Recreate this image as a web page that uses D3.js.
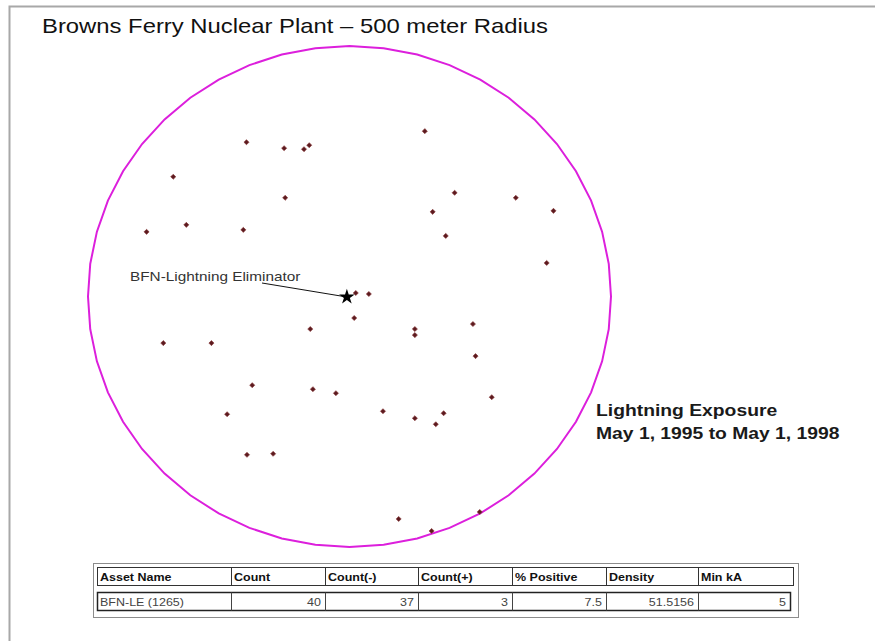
<!DOCTYPE html>
<html lang="en">
<head>
    <meta charset="UTF-8">
    <title>Browns Ferry Nuclear Plant</title>
    <style type="text/css">
        html, body { padding:0; margin:0; background:#fff; }
        text { font-family: Arial, "Liberation Sans", sans-serif; }
    </style>
</head>
<body>
<script src="https://d3js.org/d3.v7.min.js"></script>
<script type="text/javascript">
    var width = 875,
        height = 641,
        stretch = 1.135;   // the source map is a little wider than tall

    // strike locations, metres east / north of the asset
    var strikeEast = [-197, -125, -87, -77, -337, -123, -388, -312, -203, 144,
                      201, 159, 318, 390, 184, 377, 12, 37, 9, -75,
                      -356, -264, -186, -70, -26, -234, 64, -196, -146, 125,
                      125, 236, 241, 272, 125, 180, 165, 94, 249, 157];
    var strikeNorth = [308, 296, 294, 302, 239, 197, 129, 143, 133, 330,
                       207, 169, 197, 171, 121, 67, 7, 5, -43, -65,
                       -93, -93, -177, -185, -193, -235, -229, -316, -314, -65,
                       -77, -55, -119, -201, -243, -233, -255, -444, -430, -468];
    var assetPos = [-5, -1];
    var radius = 500;

    var title = 'Browns Ferry Nuclear Plant \u2013 500 meter Radius';
    var assetLabel = 'BFN-Lightning Eliminator';
    var periodLines = ['Lightning Exposure', 'May 1, 1995 to May 1, 1998'];

    var tableHeaders = ['Asset Name', 'Count', 'Count(-)', 'Count(+)', '% Positive', 'Density', 'Min kA'];
    var tableRow = ['BFN-LE (1265)', '40', '37', '3', '7.5', '51.5156', '5'];

    var svg = d3.select('body').append('svg')
        .attr('width', width)
        .attr('height', height);

    // page frame
    svg.append('path')
        .attr('d', 'M9.5,641 V6.5 H875')
        .attr('fill', 'none')
        .attr('stroke', '#a8a8a8')
        .attr('stroke-width', 2);

    svg.append('text')
        .attr('x', 42)
        .attr('y', 33)
        .attr('font-size', 21)
        .attr('fill', '#111')
        .text(title);

    var xScale = d3.scaleLinear().domain([-radius, radius]).range([88, 611]);
    var yScale = d3.scaleLinear().domain([-radius, radius]).range([547, 46]);

    // 500 m boundary ring
    var ring = d3.range(49).map(function(i) {
        var a = i * Math.PI / 24;
        return [xScale(radius * Math.cos(a)), yScale(radius * Math.sin(a))];
    });
    svg.append('path')
        .attr('d', d3.line()(ring))
        .attr('fill', 'none')
        .attr('stroke', '#dc1fdc')
        .attr('stroke-width', 2);

    var strikes = strikeEast.map(function(e, i) { return {x: e, y: strikeNorth[i]}; });

    svg.append('g')
        .selectAll('path')
        .data(strikes)
        .enter()
        .append('path')
        .attr('transform', function(d) {
            return 'translate(' + xScale(d.x) + ',' + yScale(d.y) + ') rotate(45)';
        })
        .attr('d', d3.symbol().type(d3.symbolSquare).size(13))
        .attr('fill', '#5c1a1f')
        .attr('stroke', '#8a3a3a')
        .attr('stroke-width', 0.6);

    // asset and its label
    var ax = xScale(assetPos[0]), ay = yScale(assetPos[1]);
    svg.append('line')
        .attr('x1', 262).attr('y1', 283)
        .attr('x2', ax).attr('y2', ay)
        .attr('stroke', '#111')
        .attr('stroke-width', 1);
    svg.append('path')
        .attr('transform', 'translate(' + ax + ',' + ay + ')')
        .attr('d', d3.symbol().type(d3.symbolStar).size(75))
        .attr('fill', '#000');
    svg.append('text')
        .attr('x', 130)
        .attr('y', 281)
        .attr('font-size', 13.5)
        .attr('fill', '#333')
        .text(assetLabel);

    svg.append('g')
        .selectAll('text')
        .data(periodLines)
        .enter()
        .append('text')
        .attr('x', 596)
        .attr('y', function(d, i) { return 416 + i * 23; })
        .attr('font-size', 17)
        .attr('font-weight', 'bold')
        .attr('fill', '#1a1a1a')
        .text(function(d) { return d; });

    // summary table
    var colEdges = [97, 231, 325, 418, 512, 606, 698, 793];
    var tbl = svg.append('g');

    tbl.append('rect')
        .attr('x', 93.5).attr('y', 563.5)
        .attr('width', 705).attr('height', 54)
        .attr('fill', 'none')
        .attr('stroke', '#8c8c8c');

    tbl.append('rect')
        .attr('x', colEdges[0] + 0.5).attr('y', 567.5)
        .attr('width', colEdges[7] - colEdges[0]).attr('height', 18)
        .attr('fill', '#fff')
        .attr('stroke', '#333');

    tbl.selectAll('line.hdiv')
        .data(colEdges.slice(1, 7))
        .enter()
        .append('line')
        .attr('class', 'hdiv')
        .attr('x1', function(d) { return d + 0.5; })
        .attr('x2', function(d) { return d + 0.5; })
        .attr('y1', 567.5).attr('y2', 585.5)
        .attr('stroke', '#333');

    tbl.selectAll('text.head')
        .data(tableHeaders)
        .enter()
        .append('text')
        .attr('class', 'head')
        .attr('x', function(d, i) { return colEdges[i] + 3; })
        .attr('y', 581)
        .attr('font-size', 11)
        .attr('font-weight', 'bold')
        .attr('fill', '#111')
        .text(function(d) { return d; });

    tbl.append('rect')
        .attr('x', colEdges[0] + 0.5).attr('y', 592.5)
        .attr('width', colEdges[7] - colEdges[0] - 3).attr('height', 18)
        .attr('fill', '#fff')
        .attr('stroke', '#222')
        .attr('stroke-width', 1.5);

    tbl.selectAll('line.ddiv')
        .data(colEdges.slice(1, 7))
        .enter()
        .append('line')
        .attr('class', 'ddiv')
        .attr('x1', function(d) { return d + 0.5; })
        .attr('x2', function(d) { return d + 0.5; })
        .attr('y1', 592.5).attr('y2', 610.5)
        .attr('stroke', '#444');

    tbl.selectAll('text.cell')
        .data(tableRow)
        .enter()
        .append('text')
        .attr('class', 'cell')
        .attr('x', function(d, i) {
            if (i === 0) return colEdges[0] + 3;
            return (i === 6 ? colEdges[7] - 3 : colEdges[i + 1]) - 4;
        })
        .attr('y', 606)
        .attr('text-anchor', function(d, i) { return i === 0 ? 'start' : 'end'; })
        .attr('font-size', 11)
        .attr('fill', '#444')
        .text(function(d) { return d; });

    // widen every label the same way the source image is widened
    svg.selectAll('text').each(function() {
        var w = this.getComputedTextLength();
        d3.select(this)
            .attr('textLength', w * stretch)
            .attr('lengthAdjust', 'spacingAndGlyphs');
    });
</script>
</body>
</html>
